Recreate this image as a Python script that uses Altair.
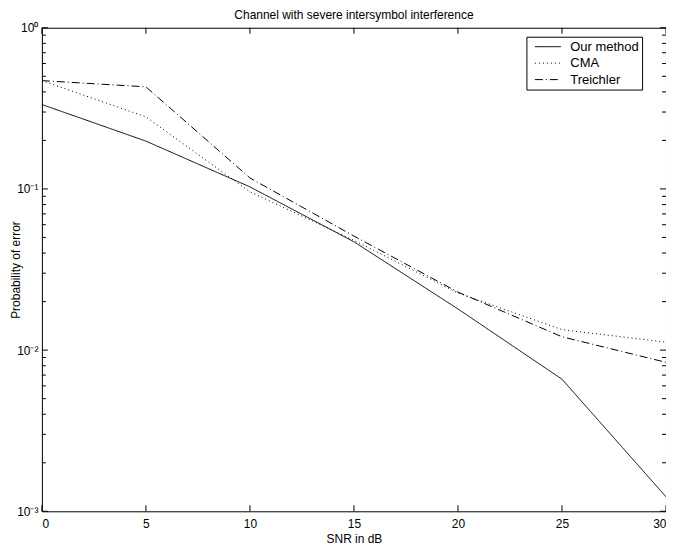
import altair as alt
import pandas as pd

snr = [0, 5, 10, 15, 20, 25, 30]
our_method = [0.334, 0.198, 0.103, 0.047, 0.0180, 0.0066, 0.00123]
cma = [0.47, 0.28, 0.096, 0.048, 0.0226, 0.0134, 0.0112]
treichler = [0.47, 0.43, 0.117, 0.051, 0.0229, 0.0121, 0.0084]
methods = ["Our method", "CMA", "Treichler"]
x_ticks = [0, 5, 10, 15, 20, 25, 30]
y_major = [0.001, 0.01, 0.1, 1.0]
y_minor = [m * 10.0 ** e for e in (-3, -2, -1) for m in range(2, 10)]

rows = []
for name, vals in zip(methods, [our_method, cma, treichler]):
    for s, v in zip(snr, vals):
        rows.append({"method": name, "snr": s, "pe": v})
df = pd.DataFrame(rows)

W, H = 626, 485
FONT = "Liberation Sans"

xscale = alt.Scale(domain=[0, 30], nice=False, zero=False)
yscale = alt.Scale(type="log", domain=[0.001, 1], nice=False)

label_expr = ("datum.value >= 0.5 ? '10⁰' : datum.value >= 0.05 ? '10⁻¹' : "
              "datum.value >= 0.005 ? '10⁻²' : '10⁻³'")

xaxis = alt.Axis(values=x_ticks, ticks=False, grid=False, title="SNR in dB",
                 labelPadding=7, titlePadding=4, domain=False,
                 labelFont=FONT, titleFont=FONT, labelFontSize=12, titleFontSize=12,
                 labelColor="black", titleColor="black", titleFontWeight="normal")
yaxis = alt.Axis(values=y_major, ticks=False, grid=False, labelExpr=label_expr,
                 title="Probability of error", labelPadding=4, titleX=-19,
                 domain=False,
                 labelFont=FONT, titleFont=FONT, labelFontSize=12, titleFontSize=12,
                 labelColor="black", titleColor="black", titleFontWeight="normal")

lines = alt.Chart(df).mark_line(color="black", strokeWidth=1, clip=True).encode(
    x=alt.X("snr:Q", scale=xscale, axis=xaxis),
    y=alt.Y("pe:Q", scale=yscale, axis=yaxis),
    strokeDash=alt.StrokeDash(
        "method:N",
        scale=alt.Scale(domain=methods, range=[[1, 0], [1, 3], [8, 3, 1, 3]]),
        legend=alt.Legend(title=None, orient="none", legendX=486, legendY=9,
                          strokeColor="black", fillColor="white", padding=3,
                          symbolType="M-0.23,0L3.77,0", symbolSize=169,
                          symbolStrokeColor="black", symbolStrokeWidth=1,
                          labelFontSize=13, labelFont=FONT, labelColor="black",
                          rowPadding=2.5, labelOffset=27, labelLimit=200),
    ),
)

xt = pd.DataFrame({"snr": x_ticks})
ymaj = pd.DataFrame({"pe": y_major})
ymin = pd.DataFrame({"pe": y_minor})


def xtick(y0, y1):
    return alt.Chart(xt).mark_rule(color="black", strokeWidth=1).encode(
        x=alt.X("snr:Q", scale=xscale, axis=xaxis),
        y=alt.value(y0), y2=alt.value(y1))


def ytick(d, x0, x1):
    return alt.Chart(d).mark_rule(color="black", strokeWidth=1).encode(
        y=alt.Y("pe:Q", scale=yscale, axis=yaxis),
        x=alt.value(x0), x2=alt.value(x1))


ticks = [
    xtick(H, H - 6), xtick(0, 6),
    ytick(ymaj, 0, 6), ytick(ymaj, W, W - 6),
    ytick(ymin, 0, 4), ytick(ymin, W, W - 4),
]

chart = alt.layer(lines, *ticks).properties(
    width=W, height=H,
    title=alt.Title("Channel with severe intersymbol interference", font=FONT,
                    fontSize=12, fontWeight="normal", offset=0, color="black"),
    autosize=alt.AutoSizeParams(type="none"),
    padding={"left": 34, "top": 19, "right": 0, "bottom": 35},
    background="white",
).configure_view(stroke="black", strokeWidth=1)

chart.save("out.html", embed_options={"renderer": "svg", "actions": False})
